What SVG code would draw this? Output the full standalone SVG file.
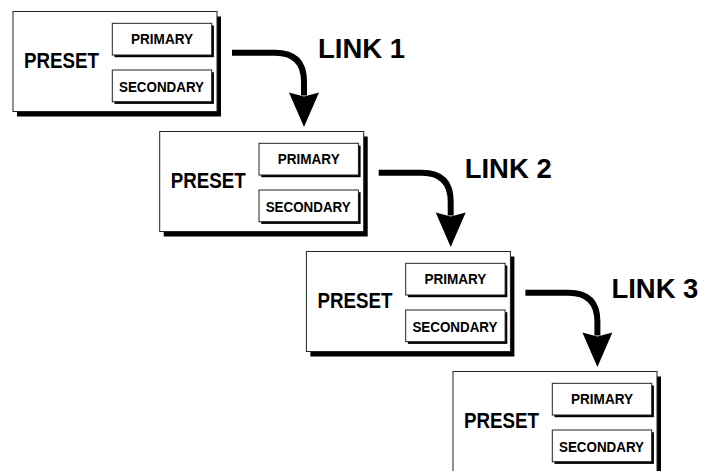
<svg xmlns="http://www.w3.org/2000/svg" width="704" height="471" viewBox="0 0 704 471">
<style>
.shadow{fill:#000}
.frame{fill:#fff;stroke:#222;stroke-width:1}
.preset{font-family:"Liberation Sans",Arial,sans-serif;font-weight:bold;font-size:22px;fill:#000}
.small{font-family:"Liberation Sans",Arial,sans-serif;font-weight:bold;font-size:14px;fill:#000}
.link{font-family:"Liberation Sans",Arial,sans-serif;font-weight:bold;font-size:27px;fill:#000}
.conn{fill:none;stroke:#000;stroke-width:6}
.head{fill:#000}
</style>
<rect width="704" height="471" fill="#fff"/>
<g id="node1" transform="translate(13,11.5)">
<rect class="shadow" x="4" y="5" width="204" height="100"/>
<rect class="frame" x="0" y="0" width="204" height="100"/>
<text class="preset" x="48.5" y="56.5" text-anchor="middle" textLength="75" lengthAdjust="spacingAndGlyphs">PRESET</text>
<rect class="shadow" x="101.5" y="14" width="99.4" height="31.7"/>
<rect class="frame" x="99.3" y="11.8" width="99.4" height="31.7"/>
<text class="small" x="149" y="32.8" text-anchor="middle" textLength="62" lengthAdjust="spacingAndGlyphs">PRIMARY</text>
<rect class="shadow" x="101.5" y="60.7" width="99.4" height="31.7"/>
<rect class="frame" x="99.3" y="58.5" width="99.4" height="31.7"/>
<text class="small" x="148.5" y="80.2" text-anchor="middle" textLength="85" lengthAdjust="spacingAndGlyphs">SECONDARY</text>
</g>
<g id="node2" transform="translate(159.7,131.5)">
<rect class="shadow" x="4" y="5" width="204" height="100"/>
<rect class="frame" x="0" y="0" width="204" height="100"/>
<text class="preset" x="48.5" y="56.5" text-anchor="middle" textLength="75" lengthAdjust="spacingAndGlyphs">PRESET</text>
<rect class="shadow" x="101.5" y="14" width="99.4" height="31.7"/>
<rect class="frame" x="99.3" y="11.8" width="99.4" height="31.7"/>
<text class="small" x="149" y="32.8" text-anchor="middle" textLength="62" lengthAdjust="spacingAndGlyphs">PRIMARY</text>
<rect class="shadow" x="101.5" y="60.7" width="99.4" height="31.7"/>
<rect class="frame" x="99.3" y="58.5" width="99.4" height="31.7"/>
<text class="small" x="148.5" y="80.2" text-anchor="middle" textLength="85" lengthAdjust="spacingAndGlyphs">SECONDARY</text>
</g>
<g id="node3" transform="translate(306.4,251.5)">
<rect class="shadow" x="4" y="5" width="204" height="100"/>
<rect class="frame" x="0" y="0" width="204" height="100"/>
<text class="preset" x="48.5" y="56.5" text-anchor="middle" textLength="75" lengthAdjust="spacingAndGlyphs">PRESET</text>
<rect class="shadow" x="101.5" y="14" width="99.4" height="31.7"/>
<rect class="frame" x="99.3" y="11.8" width="99.4" height="31.7"/>
<text class="small" x="149" y="32.8" text-anchor="middle" textLength="62" lengthAdjust="spacingAndGlyphs">PRIMARY</text>
<rect class="shadow" x="101.5" y="60.7" width="99.4" height="31.7"/>
<rect class="frame" x="99.3" y="58.5" width="99.4" height="31.7"/>
<text class="small" x="148.5" y="80.2" text-anchor="middle" textLength="85" lengthAdjust="spacingAndGlyphs">SECONDARY</text>
</g>
<g id="node4" transform="translate(453,371.5)">
<rect class="shadow" x="4" y="5" width="204" height="100"/>
<rect class="frame" x="0" y="0" width="204" height="100"/>
<text class="preset" x="48.5" y="56.5" text-anchor="middle" textLength="75" lengthAdjust="spacingAndGlyphs">PRESET</text>
<rect class="shadow" x="101.5" y="14" width="99.4" height="31.7"/>
<rect class="frame" x="99.3" y="11.8" width="99.4" height="31.7"/>
<text class="small" x="149" y="32.8" text-anchor="middle" textLength="62" lengthAdjust="spacingAndGlyphs">PRIMARY</text>
<rect class="shadow" x="101.5" y="60.7" width="99.4" height="31.7"/>
<rect class="frame" x="99.3" y="58.5" width="99.4" height="31.7"/>
<text class="small" x="148.5" y="80.2" text-anchor="middle" textLength="85" lengthAdjust="spacingAndGlyphs">SECONDARY</text>
</g>
<g id="connectors">
<g id="link1" transform="translate(13,11.5)">
<path class="conn" d="M219,41.2 H262 Q291,41.2 291,70 V84"/>
<polygon class="head" points="276,81 291,85 306,81 291,115.5"/>
<text class="link" x="305" y="46.5" textLength="87" lengthAdjust="spacingAndGlyphs">LINK 1</text>
</g>
<g id="link2" transform="translate(159.7,131.5)">
<path class="conn" d="M219,41.2 H262 Q291,41.2 291,70 V84"/>
<polygon class="head" points="276,81 291,85 306,81 291,115.5"/>
<text class="link" x="305" y="46.5" textLength="87" lengthAdjust="spacingAndGlyphs">LINK 2</text>
</g>
<g id="link3" transform="translate(306.4,251.5)">
<path class="conn" d="M219,41.2 H262 Q291,41.2 291,70 V84"/>
<polygon class="head" points="276,81 291,85 306,81 291,115.5"/>
<text class="link" x="305" y="46.5" textLength="87" lengthAdjust="spacingAndGlyphs">LINK 3</text>
</g>
</g>
</svg>
